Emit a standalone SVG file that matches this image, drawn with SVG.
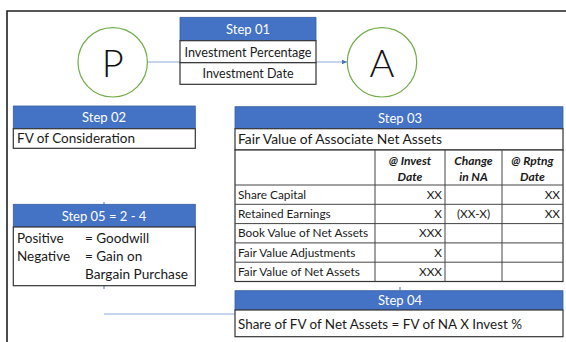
<svg xmlns="http://www.w3.org/2000/svg" width="566" height="342" viewBox="0 0 566 342">
<defs>
<style>
text{font-family:"Lato","Liberation Sans",sans-serif;fill:#1a1a1a}
.hd{fill:#4472C4;stroke:#3a5f9f;stroke-width:0.8}
.ht{fill:#ffffff;font-size:13px;text-anchor:middle}
.bx{fill:#ffffff;stroke:#333333;stroke-width:1.2}
.bt{font-size:13.5px}
.ct{font-size:11.8px}
.ch{font-size:12px;font-weight:bold;font-style:italic;text-anchor:middle}
.r{text-anchor:end}
.cell{fill:none;stroke:#444444;stroke-width:1}
.circ{fill:#ffffff;stroke:#70AD47;stroke-width:1.2}
.big{font-size:38px;font-weight:300;text-anchor:middle;fill:#111}
.con{stroke:#8FAADC;stroke-width:1;fill:none}
</style>
<marker id="ah" markerWidth="6" markerHeight="6" refX="5" refY="3" orient="auto" markerUnits="userSpaceOnUse">
<path d="M0,0.8 L5,3 L0,5.2 Z" fill="#4472C4"/>
</marker>
</defs>

<g id="frame">
<path d="M7,342 L7,11 L566,11" fill="none" stroke="#222" stroke-width="1.6"/>
</g>

<g id="connectors">
<line class="con" x1="147" y1="62" x2="180" y2="62"/>
<line class="con" x1="316" y1="62" x2="347" y2="62" marker-end="url(#ah)"/>
<line class="con" x1="104" y1="314" x2="235" y2="314"/>
<line x1="104" y1="202" x2="104" y2="205" stroke="#4472C4" stroke-width="1"/>
<line x1="104" y1="286" x2="104" y2="289" stroke="#4472C4" stroke-width="1"/>
<line x1="400" y1="287" x2="400" y2="290" stroke="#4472C4" stroke-width="1"/>
</g>

<g id="nodeP">
<circle class="circ" cx="112.7" cy="62.3" r="34.7"/>
<text class="big" x="112.7" y="76.5">P</text>
</g>

<g id="nodeA">
<circle class="circ" cx="382" cy="62.3" r="34.7"/>
<text class="big" x="382" y="76.5">A</text>
</g>

<g id="step01">
<rect class="hd" x="180" y="17.3" width="136" height="23.4"/>
<text class="ht" x="248" y="33.5">Step 01</text>
<rect class="bx" x="180" y="40.7" width="136" height="22"/>
<rect class="bx" x="180" y="62.7" width="136" height="21.6"/>
<text class="bt" x="248" y="56.5" text-anchor="middle" textLength="127" lengthAdjust="spacingAndGlyphs">Investment Percentage</text>
<text class="bt" x="248" y="78" text-anchor="middle" textLength="91" lengthAdjust="spacingAndGlyphs">Investment Date</text>
</g>

<g id="step02">
<rect class="hd" x="13.3" y="106" width="182" height="22.7"/>
<text class="ht" x="104" y="122">Step 02</text>
<rect class="bx" x="13.3" y="128.7" width="182" height="19.6"/>
<text class="bt" x="17" y="142.5" textLength="118" lengthAdjust="spacingAndGlyphs">FV of Consideration</text>
</g>

<g id="step05">
<rect class="hd" x="13.3" y="204.3" width="182" height="22.7"/>
<text class="ht" x="104" y="220.5">Step 05 = 2 - 4</text>
<rect class="bx" x="13.3" y="227" width="182" height="58.7"/>
<text class="bt" x="17" y="243">Positive</text>
<text class="bt" x="85" y="243">= Goodwill</text>
<text class="bt" x="17" y="261">Negative</text>
<text class="bt" x="85" y="261">= Gain on</text>
<text class="bt" x="85" y="279" textLength="103" lengthAdjust="spacingAndGlyphs">Bargain Purchase</text>
</g>

<g id="step03">
<rect class="hd" x="235" y="106.7" width="328" height="22"/>
<text class="ht" x="400" y="122.5">Step 03</text>
<rect class="bx" x="235" y="128.7" width="328" height="21.3"/>
<text class="bt" x="238" y="144" textLength="204" lengthAdjust="spacingAndGlyphs">Fair Value of Associate Net Assets</text>
<rect class="bx" x="235" y="150" width="328" height="131.5"/>
<g class="cell">
<line x1="375" y1="150" x2="375" y2="281.5"/>
<line x1="445" y1="150" x2="445" y2="281.5"/>
<line x1="502" y1="150" x2="502" y2="281.5"/>
<line x1="235" y1="185" x2="563" y2="185"/>
<line x1="235" y1="204.3" x2="563" y2="204.3"/>
<line x1="235" y1="223.6" x2="563" y2="223.6"/>
<line x1="235" y1="242.9" x2="563" y2="242.9"/>
<line x1="235" y1="262.2" x2="563" y2="262.2"/>
</g>
<text class="ch" x="410" y="165">@ Invest</text>
<text class="ch" x="410" y="181">Date</text>
<text class="ch" x="473.5" y="165">Change</text>
<text class="ch" x="473.5" y="181">in NA</text>
<text class="ch" x="532.5" y="165">@ Rptng</text>
<text class="ch" x="532.5" y="181">Date</text>

<text class="ct" x="238" y="198.8">Share Capital</text>
<text class="ct r" x="442" y="198.8">XX</text>
<text class="ct r" x="560" y="198.8">XX</text>
<text class="ct" x="238" y="218.1">Retained Earnings</text>
<text class="ct r" x="442" y="218.1">X</text>
<text class="ct" x="473.5" y="218.1" text-anchor="middle">(XX-X)</text>
<text class="ct r" x="560" y="218.1">XX</text>
<text class="ct" x="238" y="237.4">Book Value of Net Assets</text>
<text class="ct r" x="442" y="237.4">XXX</text>
<text class="ct" x="238" y="256.7">Fair Value Adjustments</text>
<text class="ct r" x="442" y="256.7">X</text>
<text class="ct" x="238" y="276">Fair Value of Net Assets</text>
<text class="ct r" x="442" y="276">XXX</text>
</g>

<g id="step04">
<rect class="hd" x="235" y="290.7" width="328" height="19.3"/>
<text class="ht" x="400" y="305">Step 04</text>
<rect class="bx" x="235" y="310" width="328" height="26.7"/>
<text class="bt" x="238" y="329" textLength="284" lengthAdjust="spacingAndGlyphs">Share of FV of Net Assets = FV of NA X Invest %</text>
</g>
</svg>
